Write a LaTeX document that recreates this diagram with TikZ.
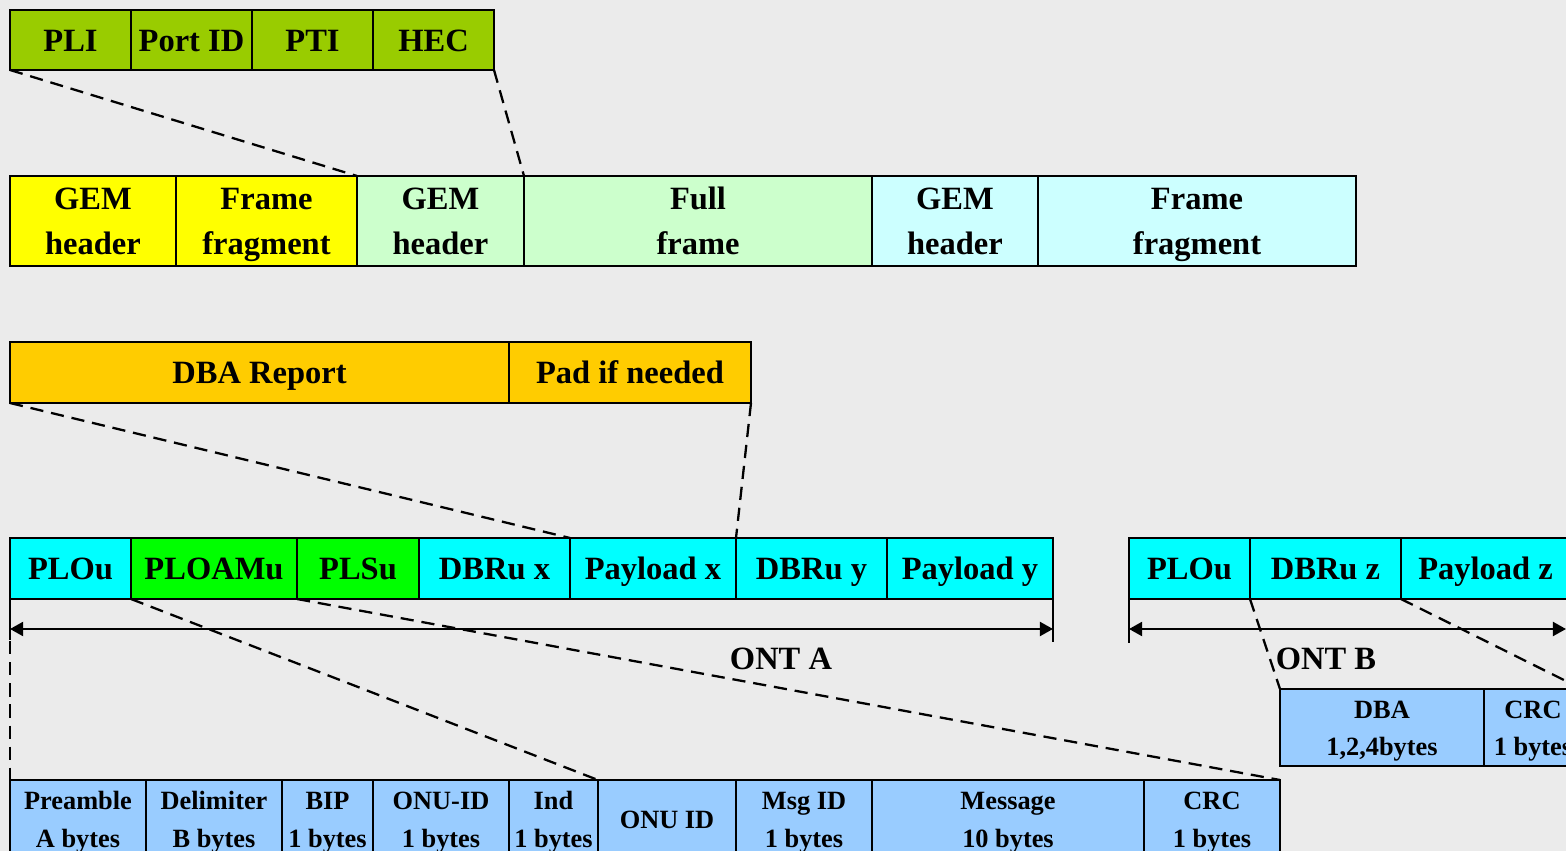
\documentclass[tikz,border=0pt]{standalone}
\usepackage{fontspec}
\setmainfont{Liberation Serif}
\usetikzlibrary{arrows.meta}

\definecolor{bg}{RGB}{235,235,235}
\definecolor{hdrgreen}{RGB}{153,204,0}
\definecolor{gemyellow}{RGB}{255,255,0}
\definecolor{palegreen}{RGB}{204,255,204}
\definecolor{palecyan}{RGB}{204,255,255}
\definecolor{dbaorange}{RGB}{255,204,0}
\definecolor{burstcyan}{RGB}{0,255,255}
\definecolor{burstgreen}{RGB}{0,255,0}
\definecolor{fieldblue}{RGB}{153,204,255}

\tikzset{
  fld/.style={draw=black, line width=1.4pt, inner sep=0pt, outer sep=0pt,
              align=center, font=\bfseries\fontsize{18.5}{25.5}\selectfont},
  smalltxt/.style={font=\bfseries\fontsize{15}{21.5}\selectfont},
  link/.style={line width=1.3pt, dash pattern=on 7.5pt off 4.5pt},
  span/.style={line width=1.3pt,
    {Triangle[length=7.5pt,width=8pt]}-{Triangle[length=7.5pt,width=8pt]}},
  tick/.style={line width=1.3pt},
  spanlabel/.style={font=\bfseries\fontsize{18.5}{22}\selectfont, inner sep=0pt},
}

% strut giving every text line the same height and depth
\newcommand\fstrut{\rule[-0.25\baselineskip]{0pt}{\baselineskip}}

% \fieldbox{name}{x1}{y1}{x2}{y2}{options}{text}   (coordinates in px units)
\newcommand\fieldbox[7]{%
  \node[fld,#6,minimum width={(#4-#2)*0.02cm},minimum height={(#5-#3)*0.02cm}]
    (#1) at ({(#2+#4)/2},{(#3+#5)/2}) {\fstrut#7\fstrut};}

\begin{document}
\begin{tikzpicture}[x=0.02cm,y=-0.02cm]
\useasboundingbox (0,0) rectangle (1566,851);
\fill[bg] (0,0) rectangle (1566,851);
\clip (0,0) rectangle (1566,851);

% GEM header fields
\fieldbox{pli}{10}{10}{131}{70}{fill=hdrgreen}{PLI}
\fieldbox{portid}{131}{10}{252}{70}{fill=hdrgreen}{Port ID}
\fieldbox{pti}{252}{10}{373}{70}{fill=hdrgreen}{PTI}
\fieldbox{hec}{373}{10}{494}{70}{fill=hdrgreen}{HEC}

% GEM frames
\fieldbox{gemA}{10}{176}{176}{266}{fill=gemyellow}{GEM\\header}
\fieldbox{fragA}{176}{176}{357}{266}{fill=gemyellow}{Frame\\fragment}
\fieldbox{gemB}{357}{176}{524}{266}{fill=palegreen}{GEM\\header}
\fieldbox{full}{524}{176}{872}{266}{fill=palegreen}{Full\\frame}
\fieldbox{gemC}{872}{176}{1038}{266}{fill=palecyan}{GEM\\header}
\fieldbox{fragC}{1038}{176}{1356}{266}{fill=palecyan}{Frame\\fragment}

\draw[link] (pli.south west) -- (gemB.north west);
\draw[link] (hec.south east) -- (full.north west);

% DBA report
\fieldbox{dbarep}{10}{342}{509}{403}{fill=dbaorange}{DBA Report}
\fieldbox{pad}{509}{342}{751}{403}{fill=dbaorange}{Pad if needed}

% Upstream burst, ONT A
\fieldbox{plouA}{10}{538}{131}{599}{fill=burstcyan}{PLOu}
\fieldbox{ploam}{131}{538}{297}{599}{fill=burstgreen}{PLOAMu}
\fieldbox{plsu}{297}{538}{419}{599}{fill=burstgreen}{PLSu}
\fieldbox{dbrux}{419}{538}{570}{599}{fill=burstcyan}{DBRu x}
\fieldbox{payx}{570}{538}{736}{599}{fill=burstcyan}{Payload x}
\fieldbox{dbruy}{736}{538}{887}{599}{fill=burstcyan}{DBRu y}
\fieldbox{payy}{887}{538}{1053}{599}{fill=burstcyan}{Payload y}

% Upstream burst, ONT B
\fieldbox{plouB}{1129}{538}{1250}{599}{fill=burstcyan}{PLOu}
\fieldbox{dbruz}{1250}{538}{1401}{599}{fill=burstcyan}{DBRu z}
\fieldbox{payz}{1401}{538}{1570}{599}{fill=burstcyan}{Payload z}

\draw[link] (dbarep.south west) -- (payx.north west);
\draw[link] (pad.south east) -- (dbruy.north west);

% Burst spans
\coordinate (aL) at (10,629);
\coordinate (aR) at (1053,629);
\draw[tick] (plouA.south west) -- (10,640);
\draw[tick] (payy.south east) -- (1053,642);
\draw[span] (aL) -- (aR);
\node[spanlabel] (ontA) at (781,659) {ONT A};

\coordinate (bL) at (1129,629);
\coordinate (bR) at (1566,629);
\draw[tick] (plouB.south west) -- (1129,643);
\draw[span] (bL) -- (bR);
\node[spanlabel] (ontB) at (1326,659) {ONT B};

% DBRu z contents
\fieldbox{dbaB}{1280}{689}{1484}{766}{fill=fieldblue,smalltxt}{DBA\\1,2,4bytes}
\fieldbox{crcB}{1484}{689}{1582}{766}{fill=fieldblue,smalltxt}{CRC\\1 bytes}

% PLOAMu / PLSu contents
\fieldbox{pre}{10}{780}{146}{858}{fill=fieldblue,smalltxt}{Preamble\\A bytes}
\fieldbox{delim}{146}{780}{282}{858}{fill=fieldblue,smalltxt}{Delimiter\\B bytes}
\fieldbox{bip}{282}{780}{373}{858}{fill=fieldblue,smalltxt}{BIP\\1 bytes}
\fieldbox{onuidA}{373}{780}{509}{858}{fill=fieldblue,smalltxt}{ONU-ID\\1 bytes}
\fieldbox{ind}{509}{780}{598}{858}{fill=fieldblue,smalltxt}{Ind\\1 bytes}
\fieldbox{onuid}{598}{780}{736}{858}{fill=fieldblue,smalltxt}{ONU ID}
\fieldbox{msgid}{736}{780}{872}{858}{fill=fieldblue,smalltxt}{Msg ID\\1 bytes}
\fieldbox{msg}{872}{780}{1144}{858}{fill=fieldblue,smalltxt}{Message\\10 bytes}
\fieldbox{crcA}{1144}{780}{1280}{858}{fill=fieldblue,smalltxt}{CRC\\1 bytes}

% Expansion guides
\draw[link] (plouA.south west) -- (pre.north west);
\draw[link] (ploam.south west) -- (onuid.north west);
\draw[link] (plsu.south west) -- (crcA.north east);
\draw[link] (dbruz.south west) -- (dbaB.north west);
\draw[link] (payz.south west) -- (crcB.north east);
\end{tikzpicture}
\end{document}
